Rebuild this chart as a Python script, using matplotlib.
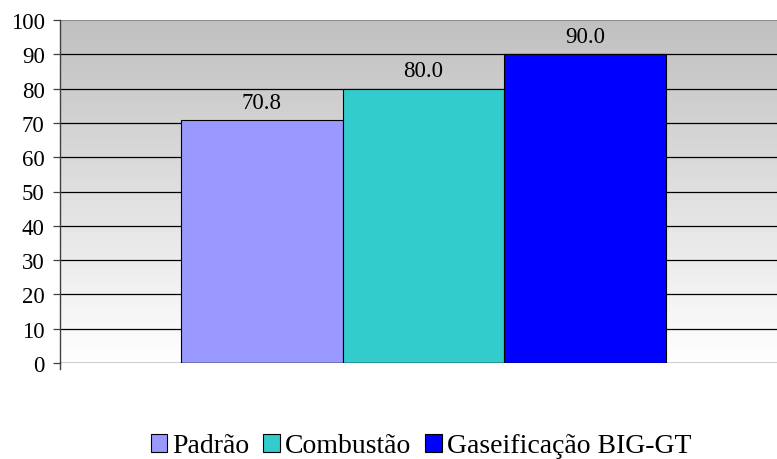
import matplotlib
matplotlib.use("Agg")
import matplotlib.pyplot as plt
import numpy as np
from matplotlib.patches import Patch

categories = ["Padrão", "Combustão", "Gaseificação BIG-GT"]
values = [70.8, 80.0, 90.0]
colors = ["#9999ff", "#33cccc", "#0000ff"]
yticks = [0, 10, 20, 30, 40, 50, 60, 70, 80, 90, 100]

plt.rcParams['font.family'] = ['Liberation Serif', 'DejaVu Serif']

fig = plt.figure(figsize=(7.77, 4.60), dpi=100)
ax = fig.add_axes([60/777, (460-364)/460, 717/777, 343/460])

# gradient background
grad = np.linspace(0, 1, 256).reshape(-1, 1)
ax.imshow(grad, extent=[0, 1, 0, 1], transform=ax.transAxes, aspect='auto',
          cmap=matplotlib.colors.LinearSegmentedColormap.from_list('g', ['#ffffff', '#c0c0c0']),
          origin='lower', zorder=0)

x = np.arange(len(categories))
bars = ax.bar(x, values, width=1.0, color=colors, edgecolor='black', linewidth=0.8, zorder=3)
for xi, v in zip(x, values):
    ax.text(xi, v + 2.2, f"{v:.1f}", ha='center', va='bottom', fontsize=16.5, zorder=4)

ax.set_xlim(-1.248, 3.186)
ax.set_ylim(0, 100)
ax.set_yticks(yticks)
ax.set_yticklabels([str(t) for t in yticks], fontsize=16.5)
ax.set_xticks([])
for t in yticks[1:-1]:
    ax.axhline(t, color='black', linewidth=0.9, zorder=1)
ax.axhline(100, color='#808080', linewidth=1.2, zorder=1)
ax.axhline(0, color='black', linewidth=1.0, zorder=4)
for s in ['top', 'right', 'bottom']:
    ax.spines[s].set_visible(False)
ax.spines['left'].set_color('#404040')
ax.spines['left'].set_linewidth(1.0)
ax.tick_params(axis='y', length=5, width=0.9, color='#404040', pad=6)
# small extension of the axis line below zero
ax.plot([0, 0], [0, -0.018], transform=ax.transAxes, color='#404040',
        linewidth=1.0, clip_on=False, zorder=5)

handles = [Patch(facecolor=c, edgecolor='black', linewidth=0.8) for c in colors]
fig.legend(handles, categories, loc='center', bbox_to_anchor=(421/777, 1 - 447/460),
           ncol=3, frameon=False, fontsize=20, handlelength=0.6, handleheight=0.6,
           handletextpad=0.18, columnspacing=0.5, borderpad=0, borderaxespad=0)

fig.savefig("out.png", dpi=100)
